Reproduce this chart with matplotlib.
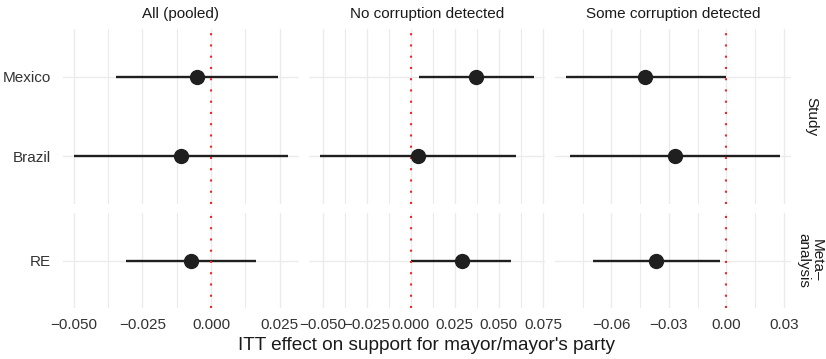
import matplotlib
matplotlib.use("Agg")
import matplotlib.pyplot as plt
import numpy as np

plt.rcParams["font.family"] = ["Liberation Sans", "DejaVu Sans"]

# panels (columns) and rows of the facet grid
PANELS = ["All (pooled)", "No corruption detected", "Some corruption detected"]
STUDIES = ["Brazil", "Mexico"]          # bottom to top
META = ["RE"]

# point estimates and 95% intervals, one value per panel
mexico_est = [-0.0050, 0.0373, -0.0422]
mexico_lo = [-0.0345, 0.0045, -0.0838]
mexico_hi = [0.0245, 0.0701, 0.0000]
brazil_est = [-0.0111, 0.0042, -0.0267]
brazil_lo = [-0.0500, -0.0517, -0.0814]
brazil_hi = [0.0281, 0.0600, 0.0282]
re_est = [-0.0073, 0.0288, -0.0366]
re_lo = [-0.0308, 0.0002, -0.0697]
re_hi = [0.0163, 0.0568, -0.0035]

# x ticks per panel
MAJOR = [[-0.050, -0.025, 0.000, 0.025],
         [-0.050, -0.025, 0.000, 0.025, 0.050, 0.075],
         [-0.06, -0.03, 0.00, 0.03]]
TICK_FMT = ["{:.3f}", "{:.3f}", "{:.2f}"]

W, H = 826, 359
GRID = "#EBEBEB"
INK = "#1F1F1F"


def px(x0, y0, x1, y1):
    return [x0 / W, 1 - y1 / H, (x1 - x0) / W, (y1 - y0) / H]


def draw_rows(ax, ests, los, his, labels):
    ys = np.arange(1, len(labels) + 1)
    for y, e, lo, hi in zip(ys, ests, los, his):
        ax.plot([lo, hi], [y, y], color=INK, lw=1.7, solid_capstyle="butt", zorder=3)
        ax.plot(e, y, "o", color=INK, ms=10, zorder=5)
    ax.set_ylim(0.4, len(labels) + 0.6)
    ax.set_yticks(ys)
    ax.set_yticklabels(labels)
    for y in ys:
        ax.axhline(y, color=GRID, lw=1.0, zorder=0)


fig = plt.figure(figsize=(W / 100, H / 100), dpi=100)

cols = [(63, 299), (309, 545), (555, 791)]
rows = [(29, 204), (213, 308)]

for j, name in enumerate(PANELS):
    lo_all = min(mexico_lo[j], brazil_lo[j], re_lo[j])
    hi_all = max(mexico_hi[j], brazil_hi[j], re_hi[j])
    pad = 0.05 * (hi_all - lo_all)
    xlim = (lo_all - pad, hi_all + pad)
    major = MAJOR[j]
    step = major[1] - major[0]
    minor = [m + step / 2 for m in [major[0] - step] + major]
    minor = [m for m in minor if xlim[0] <= m <= xlim[1]]

    for i, (y0, y1) in enumerate(rows):
        ax = fig.add_axes(px(cols[j][0], y0, cols[j][1], y1))
        if i == 0:
            draw_rows(ax, [brazil_est[j], mexico_est[j]], [brazil_lo[j], mexico_lo[j]],
                      [brazil_hi[j], mexico_hi[j]], STUDIES)
        else:
            draw_rows(ax, [re_est[j]], [re_lo[j]], [re_hi[j]], META)
        for m in major:
            ax.axvline(m, color=GRID, lw=1.0, zorder=0)
        for m in minor:
            ax.axvline(m, color=GRID, lw=0.8, zorder=0)
        ax.axvline(0, color="#F02828", lw=1.5, ls=(0, (1, 4.4)), zorder=4)
        ax.set_xlim(*xlim)
        ax.set_xticks(major)
        ax.set_xticklabels([TICK_FMT[j].format(m).replace("-", "\u2212") for m in major])
        for s in ax.spines.values():
            s.set_visible(False)
        ax.tick_params(length=0, labelsize=11, labelcolor="#333333")
        ax.tick_params(axis="x", pad=7)
        ax.tick_params(axis="y", pad=9)
        if i == 0:
            ax.tick_params(axis="x", labelbottom=False)
            ax.set_title(name, fontsize=11, color="#1A1A1A", pad=8)
        if j > 0:
            ax.tick_params(axis="y", labelleft=False)

fig.text(811 / W, 1 - 117 / H, "Study", rotation=-90, fontsize=11, color="#1A1A1A",
         ha="center", va="center")
fig.text(810 / W, 1 - 260 / H, "Meta\u2013\nanalysis", rotation=-90, fontsize=11,
         color="#1A1A1A", ha="center", va="center", linespacing=1.0)
fig.text(427 / W, 1 - 345 / H, "ITT effect on support for mayor/mayor's party",
         fontsize=13.7, color="#1A1A1A", ha="center", va="center")

fig.savefig("out.png", dpi=100)
